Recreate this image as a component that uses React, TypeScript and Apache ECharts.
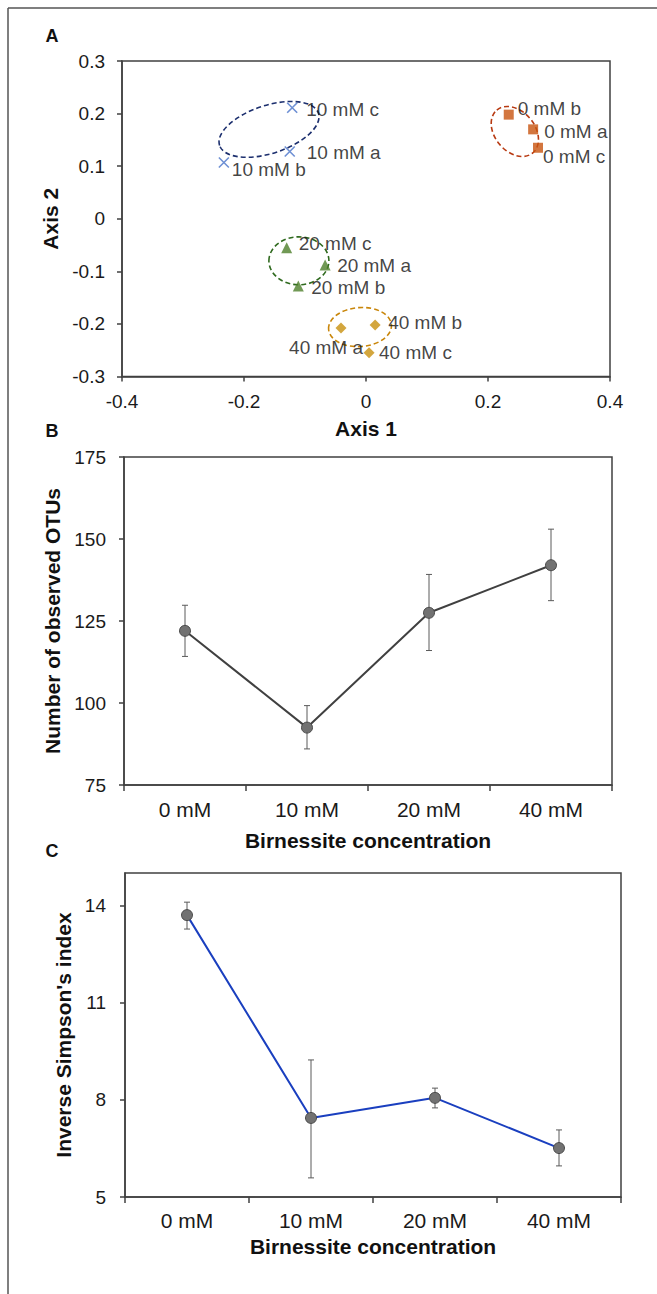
import React, { useEffect, useRef } from "react";
import * as echarts from "echarts";

// ---------- Panel A: PCoA ----------
const names0mM = ["0 mM a", "0 mM b", "0 mM c"];
const axis1_0mM = [0.274, 0.234, 0.282];
const axis2_0mM = [0.17, 0.198, 0.135];

const names10mM = ["10 mM a", "10 mM b", "10 mM c"];
const axis1_10mM = [-0.125, -0.233, -0.121];
const axis2_10mM = [0.128, 0.107, 0.211];

const names20mM = ["20 mM a", "20 mM b", "20 mM c"];
const axis1_20mM = [-0.067, -0.111, -0.13];
const axis2_20mM = [-0.088, -0.128, -0.055];

const names40mM = ["40 mM a", "40 mM b", "40 mM c"];
const axis1_40mM = [-0.041, 0.015, 0.005];
const axis2_40mM = [-0.208, -0.202, -0.255];

// group ellipses (centre in axis units, semi-axes in Axis-1 units, tilt in degrees)
const ellipseGroups = ["0 mM", "10 mM", "20 mM", "40 mM"];
const ellipseCx = [0.244, -0.159, -0.11, -0.0098];
const ellipseCy = [0.166, 0.17, -0.08, -0.206];
const ellipseRa = [0.0459, 0.0852, 0.0492, 0.0516];
const ellipseRb = [0.0328, 0.0393, 0.0393, 0.032];
const ellipseTilt = [-50, 18, 0, 4];

// ---------- Panels B & C ----------
const concentrations = ["0 mM", "10 mM", "20 mM", "40 mM"];
const otuMean = [122, 92.5, 127.5, 142];
const otuLow = [114.2, 86, 116, 131.2];
const otuHigh = [129.8, 99.2, 139.2, 153];

const invSimpsonMean = [13.7, 7.44, 8.06, 6.51];
const invSimpsonLow = [13.27, 5.59, 7.75, 5.96];
const invSimpsonHigh = [14.1, 9.23, 8.36, 7.07];

const invSimpsonTicks = [5, 8, 11, 14];

// ---------- styling ----------
const FONT = "'Liberation Sans', Arial, Helvetica, sans-serif";
const AXIS_COLOR = "#404040";
const TEXT_COLOR = "#111111";

const labelOffsets: Record<string, [number, number]> = {
  "0 mM a": [11, 2],
  "0 mM b": [9, -6],
  "0 mM c": [5, 9],
  "10 mM a": [17, 1],
  "10 mM b": [8, 7],
  "10 mM c": [14, 2],
  "20 mM a": [12, 0],
  "20 mM b": [13, 1],
  "20 mM c": [12, -4],
  "40 mM a": [22, 19],
  "40 mM b": [13, -2],
  "40 mM c": [10, 0],
};
const labelAlign: Record<string, string> = { "40 mM a": "right" };
const ellipseColors = ["#B83A12", "#1C2F6E", "#2F6A1E", "#C9860A"];

function pcoaSeries(
  names: string[],
  xs: number[],
  ys: number[],
  symbol: string,
  size: number,
  itemStyle: any
) {
  return {
    type: "scatter",
    xAxisIndex: 0,
    yAxisIndex: 0,
    symbol,
    symbolSize: size,
    itemStyle,
    z: 5,
    label: {
      show: true,
      position: "inside",
      formatter: "{b}",
      color: TEXT_COLOR,
      fontSize: 19,
      fontFamily: FONT,
      verticalAlign: "middle",
    },
    data: names.map((n, i) => ({
      name: n,
      value: [xs[i], ys[i]],
      label: { offset: labelOffsets[n], align: labelAlign[n] || "left" },
    })),
  };
}

function errorBarSeries(axisIdx: number, low: number[], high: number[]) {
  return {
    type: "custom",
    xAxisIndex: axisIdx,
    yAxisIndex: axisIdx,
    silent: true,
    z: 2,
    encode: { x: 0, y: [1, 2] },
    renderItem: (_params: any, api: any) => {
      const x = api.value(0);
      const lo = api.coord([x, api.value(1)]);
      const hi = api.coord([x, api.value(2)]);
      const w = 3;
      const st = { stroke: "#5a5a5a", lineWidth: 1 };
      return {
        type: "group",
        children: [
          { type: "line", shape: { x1: lo[0], y1: lo[1], x2: hi[0], y2: hi[1] }, style: st },
          { type: "line", shape: { x1: lo[0] - w, y1: lo[1], x2: lo[0] + w, y2: lo[1] }, style: st },
          { type: "line", shape: { x1: hi[0] - w, y1: hi[1], x2: hi[0] + w, y2: hi[1] }, style: st },
        ],
      };
    },
    data: concentrations.map((_c, i) => [i, low[i], high[i]]),
  };
}

const axisLineCommon = { show: true, onZero: false, lineStyle: { color: AXIS_COLOR, width: 1.5 } };
const axisTickCommon = { show: true, inside: false, length: 5, lineStyle: { color: AXIS_COLOR, width: 1.5 } };
const nameStyle = { fontFamily: FONT, fontWeight: "bold", fontSize: 21, color: TEXT_COLOR };
const tickLabel = (size: number, margin: number) => ({
  fontFamily: FONT,
  fontSize: size,
  color: "#1a1a1a",
  margin,
});

export default function App() {
  const ref = useRef<HTMLDivElement>(null);

  useEffect(() => {
    document.body.style.margin = "0";
    document.body.style.overflow = "hidden";
    if (!ref.current) return;
    const chart = echarts.init(ref.current, undefined, { renderer: "svg" });

    const option: any = {
      animation: false,
      backgroundColor: "#ffffff",
      textStyle: { fontFamily: FONT },
      grid: [
        { left: 122, top: 61, width: 488, height: 315.5, show: true, borderColor: AXIS_COLOR, borderWidth: 1.5, backgroundColor: "transparent" },
        { left: 124, top: 457, width: 488, height: 328, show: true, borderColor: AXIS_COLOR, borderWidth: 1.5, backgroundColor: "transparent" },
        { left: 125, top: 873, width: 496, height: 324, show: true, borderColor: AXIS_COLOR, borderWidth: 1.5, backgroundColor: "transparent" },
      ],
      xAxis: [
        {
          gridIndex: 0,
          type: "value",
          min: -0.4,
          max: 0.4,
          interval: 0.2,
          name: "Axis 1",
          nameLocation: "middle",
          nameGap: 41,
          nameTextStyle: nameStyle,
          axisLine: axisLineCommon,
          axisTick: axisTickCommon,
          axisLabel: tickLabel(19, 15),
          splitLine: { show: false },
        },
        {
          gridIndex: 1,
          type: "category",
          data: concentrations,
          name: "Birnessite concentration",
          nameLocation: "middle",
          nameGap: 45,
          nameTextStyle: nameStyle,
          axisLine: axisLineCommon,
          axisTick: { ...axisTickCommon, length: 6 },
          axisLabel: tickLabel(21, 14),
          splitLine: { show: false },
        },
        {
          gridIndex: 2,
          type: "category",
          data: concentrations,
          name: "Birnessite concentration",
          nameLocation: "middle",
          nameGap: 39,
          nameTextStyle: nameStyle,
          axisLine: axisLineCommon,
          axisTick: { ...axisTickCommon, length: 6 },
          axisLabel: tickLabel(21, 13),
          splitLine: { show: false },
        },
      ],
      yAxis: [
        {
          gridIndex: 0,
          type: "value",
          min: -0.3,
          max: 0.3,
          interval: 0.1,
          name: "Axis 2",
          nameLocation: "middle",
          nameGap: 50,
          nameTextStyle: nameStyle,
          axisLine: axisLineCommon,
          axisTick: axisTickCommon,
          axisLabel: tickLabel(19, 17),
          splitLine: { show: false },
        },
        {
          gridIndex: 1,
          type: "value",
          min: 75,
          max: 175,
          interval: 25,
          name: "Number of observed OTUs",
          nameLocation: "middle",
          nameGap: 57,
          nameTextStyle: nameStyle,
          axisLine: axisLineCommon,
          axisTick: axisTickCommon,
          axisLabel: tickLabel(19, 18),
          splitLine: { show: false },
        },
        {
          gridIndex: 2,
          type: "value",
          min: 5,
          max: 15,
          name: "Inverse Simpson's index",
          nameLocation: "middle",
          nameGap: 44,
          nameTextStyle: nameStyle,
          axisLine: axisLineCommon,
          axisTick: { ...axisTickCommon, customValues: invSimpsonTicks },
          axisLabel: { ...tickLabel(19, 19), customValues: invSimpsonTicks },
          splitLine: { show: false },
        },
      ],
      graphic: [
        {
          type: "line",
          shape: { x1: 8, y1: 8, x2: 8, y2: 1300 },
          style: { stroke: "#555555", lineWidth: 1.5 },
          silent: true,
        },
        {
          type: "line",
          shape: { x1: 8, y1: 8, x2: 657, y2: 8 },
          style: { stroke: "#555555", lineWidth: 1.5 },
          silent: true,
        },
        { type: "text", x: 52, y: 36, style: { text: "A", font: `bold 18px ${FONT}`, fill: TEXT_COLOR, textAlign: "center", textVerticalAlign: "middle" } },
        { type: "text", x: 52, y: 431, style: { text: "B", font: `bold 18px ${FONT}`, fill: TEXT_COLOR, textAlign: "center", textVerticalAlign: "middle" } },
        { type: "text", x: 52, y: 851, style: { text: "C", font: `bold 18px ${FONT}`, fill: TEXT_COLOR, textAlign: "center", textVerticalAlign: "middle" } },
      ],
      series: [
        {
          type: "custom",
          xAxisIndex: 0,
          yAxisIndex: 0,
          silent: true,
          z: 2,
          encode: { x: 0, y: 1 },
          renderItem: (params: any, api: any) => {
            const c = api.coord([api.value(0), api.value(1)]);
            const ra = api.size([api.value(2), 0])[0];
            const rb = api.size([api.value(3), 0])[0];
            const rot = (api.value(4) * Math.PI) / 180;
            return {
              type: "ellipse",
              x: c[0],
              y: c[1],
              rotation: rot,
              shape: { cx: 0, cy: 0, rx: ra, ry: rb },
              style: {
                fill: "none",
                stroke: ellipseColors[params.dataIndex],
                lineWidth: 1.6,
                lineDash: [5, 3],
              },
            };
          },
          data: ellipseGroups.map((_g, i) => [ellipseCx[i], ellipseCy[i], ellipseRa[i], ellipseRb[i], ellipseTilt[i]]),
        },
        pcoaSeries(names0mM, axis1_0mM, axis2_0mM, "rect", 10, { color: "#C8540F" }),
        pcoaSeries(names10mM, axis1_10mM, axis2_10mM, "path://M0,0L10,10M10,0L0,10", 10, {
          color: "rgba(0,0,0,0)",
          borderColor: "#4A74C9",
          borderWidth: 1.6,
        }),
        pcoaSeries(names20mM, axis1_20mM, axis2_20mM, "triangle", 11, { color: "#4E7F2A" }),
        pcoaSeries(names40mM, axis1_40mM, axis2_40mM, "diamond", 11, { color: "#C8900E" }),

        errorBarSeries(1, otuLow, otuHigh),
        {
          type: "line",
          xAxisIndex: 1,
          yAxisIndex: 1,
          data: otuMean,
          symbol: "circle",
          symbolSize: 11,
          z: 4,
          lineStyle: { color: "#404040", width: 2 },
          itemStyle: { color: "#727272", borderColor: "#4a4a4a", borderWidth: 1 },
        },
        errorBarSeries(2, invSimpsonLow, invSimpsonHigh),
        {
          type: "line",
          xAxisIndex: 2,
          yAxisIndex: 2,
          data: invSimpsonMean,
          symbol: "circle",
          symbolSize: 11,
          z: 4,
          lineStyle: { color: "#1A3FBF", width: 2 },
          itemStyle: { color: "#727272", borderColor: "#4a4a4a", borderWidth: 1 },
        },
      ],
    };

    chart.setOption(option);
    return () => chart.dispose();
  }, []);

  return <div ref={ref} style={{ width: 657, height: 1294 }} />;
}
